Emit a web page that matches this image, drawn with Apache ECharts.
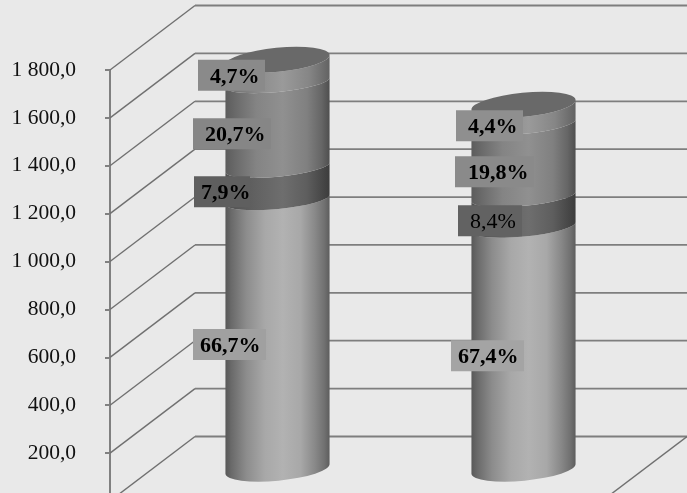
<!DOCTYPE html>
<html><head><meta charset="utf-8">
<style>html,body{margin:0;padding:0;background:#e9e9e9;overflow:hidden}#c{width:687px;height:493px;filter:blur(.4px)}</style>
<script src="https://cdn.jsdelivr.net/npm/echarts@6/dist/echarts.min.js"></script>
</head><body><div id="c"></div>
<script>
// ---- data ----
const categories = ['1', '2'];
const yTicks = [0, 200, 400, 600, 800, 1000, 1200, 1400, 1600, 1800];
const segment1 = [1139, 1024];
const segment2 = [135, 128];
const segment3 = [354, 301];
const segment4 = [80, 67];
const percent1 = ['66,7%', '67,4%'];
const percent2 = ['7,9%', '8,4%'];
const percent3 = ['20,7%', '19,8%'];
const percent4 = ['4,7%', '4,4%'];

// ---- styling / layout (kept apart from the data) ----
const segments = [segment1, segment2, segment3, segment4];
const percents = [percent1, percent2, percent3, percent4];
const DEPTH_X = 85, DEPTH_Y = -64.5;
const CENTRE_X = 44.5;
const RX = 52.3, RY = 12, TILT = -5.5;
const SEAM_RY = 9.5, SEAM_SHIFT = 3.5;
const tiltRad = TILT * Math.PI / 180;
const EX = RX * Math.cos(tiltRad), EY = RX * Math.sin(tiltRad);
const gradients = [
  [[0,'#585858'],[0.06,'#6a6a6a'],[0.2,'#8c8c8c'],[0.38,'#a8a8a8'],[0.55,'#b2b2b2'],[0.72,'#a8a8a8'],[0.86,'#888888'],[0.95,'#707070'],[1,'#5c5c5c']],
  [[0,'#505050'],[0.3,'#626262'],[0.55,'#6e6e6e'],[0.78,'#5e5e5e'],[1,'#3c3c3c']],
  [[0,'#5c5c5c'],[0.1,'#6a6a6a'],[0.3,'#848484'],[0.55,'#909090'],[0.78,'#808080'],[0.92,'#666666'],[1,'#4e4e4e']],
  [[0,'#6a6a6a'],[0.35,'#8e8e8e'],[0.55,'#9a9a9a'],[0.8,'#868686'],[1,'#626262']]
];
const capColor = '#696969';
// per segment, per category: [left offset, vertical offset, width, text offset, fill, weight]
const labelBoxes = [
  [[-84.5, 12, 73, 7, '#a0a0a0', 'bold'], [-72.5, 9.6, 73, 7, '#a4a4a4', 'bold']],
  [[-83.5, 12, 56, 7, '#5f5f5f', 'bold'], [-65.5, 12.5, 64, 12, '#626262', 'normal']],
  [[-84.5, 12.4, 78, 12, '#868686', 'bold'], [-68.5, 14.8, 79, 13, '#8a8a8a', 'bold']],
  [[-79.5, 6, 67, 12, '#8a8a8a', 'bold'], [-67.5, 12.9, 67, 12, '#8f8f8f', 'bold']]
];

function fmt(v) {
  const s = String(v).replace(/\B(?=(\d{3})+$)/g, ' ');
  return s + ',0';
}
function centre(api, cat, v) {
  const p = api.coord([cat, v]);
  return [p[0] + CENTRE_X, p[1] + DEPTH_Y / 2];
}

const wallSeries = {
  type: 'custom', silent: true, z: 1,
  data: yTicks.map(v => [0, v]),
  encode: { x: 0, y: 1 },
  clip: false,
  renderItem(params, api) {
    const v = api.value(1), sys = params.coordSys;
    const y = api.coord([0, v])[1], l = sys.x, r = sys.x + sys.width;
    const children = [
      { type: 'line', shape: { x1: l, y1: y, x2: l + DEPTH_X, y2: y + DEPTH_Y }, style: { stroke: '#707070', lineWidth: 1.4 } },
      { type: 'line', shape: { x1: l + DEPTH_X, y1: y + DEPTH_Y, x2: r + DEPTH_X, y2: y + DEPTH_Y }, style: { stroke: '#7e7e7e', lineWidth: 1.8 } }
    ];
    if (v === 0) children.push({ type: 'line', shape: { x1: r, y1: y, x2: r + DEPTH_X, y2: y + DEPTH_Y }, style: { stroke: '#707070', lineWidth: 1.4 } });
    return { type: 'group', children };
  }
};

function cylinderSeries(idx) {
  const rows = categories.map((c, i) => {
    let base = 0;
    for (let k = 0; k < idx; k++) base += segments[k][i];
    return [i, base, base + segments[idx][i]];
  });
  const last = segments.length - 1;
  return {
    type: 'custom', silent: true, z: 2 + idx,
    data: rows, encode: { x: 0, y: [1, 2] }, clip: false,
    renderItem(params, api) {
      const cat = api.value(0);
      const b = centre(api, cat, api.value(1)), t = centre(api, cat, api.value(2));
      const bShift = idx === 0 ? 0 : SEAM_SHIFT, tShift = idx === last ? 0 : SEAM_SHIFT;
      const bRy = idx === 0 ? RY : SEAM_RY, tRy = idx === last ? RY : SEAM_RY;
      const lb = [b[0] - EX, b[1] + bShift - EY], rb = [b[0] + EX, b[1] + bShift + EY];
      const lt = [t[0] - EX, t[1] + tShift - EY], rt = [t[0] + EX, t[1] + tShift + EY];
      const arc = (ry, sw, p) => `A ${RX} ${ry} ${TILT} 0 ${sw} ${p[0]} ${p[1]}`;
      const d = `M ${lb[0]} ${lb[1]} ${arc(bRy, 0, rb)} L ${rt[0]} ${rt[1]} ${arc(tRy, 1, lt)} Z`;
      const children = [{
        type: 'path', shape: { pathData: d, layout: 'none' } ,
        style: { fill: new echarts.graphic.LinearGradient(b[0] - RX, 0, b[0] + RX, 0,
          gradients[idx].map(s => ({ offset: s[0], color: s[1] })), true) }
      }];
      if (idx === last) {
        children.push({
          type: 'path', shape: { pathData: `M ${lt[0]} ${lt[1]} ${arc(RY, 0, rt)} ${arc(RY, 0, lt)} Z`, layout: 'none' },
          style: { fill: capColor }
        });
      }
      return { type: 'group', children };
    }
  };
}

function labelSeries(idx) {
  const rows = categories.map((c, i) => {
    let base = 0;
    for (let k = 0; k < idx; k++) base += segments[k][i];
    return [i, base + segments[idx][i] / 2];
  });
  return {
    type: 'custom', silent: true, z: 20,
    data: rows, encode: { x: 0, y: 1 }, clip: false,
    renderItem(params, api) {
      const cat = api.value(0);
      const c = centre(api, cat, api.value(1));
      const box = labelBoxes[idx][cat];
      const x = c[0] + box[0], y = c[1] + box[1];
      return { type: 'group', children: [
        { type: 'rect', shape: { x, y: y - 15.5, width: box[2], height: 31 }, style: { fill: box[4] } },
        { type: 'text', style: { text: percents[idx][cat], x: x + box[3], y: y + 1.5, verticalAlign: 'middle', align: 'left',
          font: `${box[5]} 22px "Liberation Serif"`, fill: '#000' } }
      ] };
    }
  };
}

const chart = echarts.init(document.getElementById('c'), null, { renderer: 'canvas' });
chart.setOption({
  animation: false,
  backgroundColor: '#e9e9e9',
  grid: { left: 110, top: 70, width: 492, height: 431, containLabel: false, outerBoundsMode: 'none' },
  xAxis: { type: 'category', data: categories, axisLine: { show: false }, axisTick: { show: false }, axisLabel: { show: false } },
  yAxis: {
    type: 'value', min: 0, max: 1800, interval: 200,
    axisLine: { show: true, lineStyle: { color: '#808080', width: 2 } },
    axisTick: { show: true, length: 5, lineStyle: { color: '#808080', width: 2 } },
    axisLabel: { margin: 34, color: '#111', fontFamily: 'Liberation Serif', fontSize: 21.5, formatter: fmt, showMinLabel: false, padding: [6, 0, 0, 0] },
    splitLine: { show: false }
  },
  series: [wallSeries,
    ...segments.map((s, i) => cylinderSeries(i)),
    ...segments.map((s, i) => labelSeries(i))]
});
</script></body></html>
